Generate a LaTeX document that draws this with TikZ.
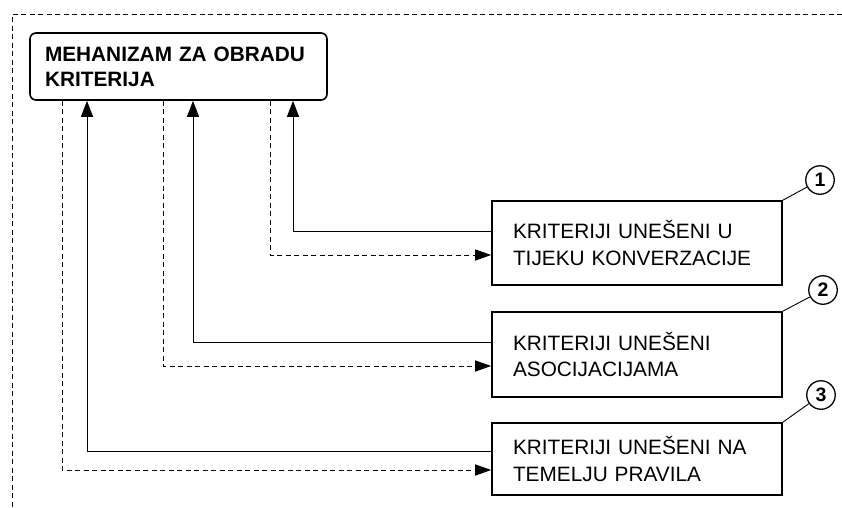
\documentclass[tikz,border=0pt]{standalone}
\usepackage{fontspec}
\setmainfont{Liberation Sans}
\usetikzlibrary{arrows.meta}
\begin{document}
\begin{tikzpicture}[x=1pt,y=-1pt,
  mainbox/.style={draw,line width=1.6pt,rounded corners=6pt,minimum width=297pt,minimum height=67pt,text width=267pt,inner xsep=15pt,align=left,font=\fontsize{20.8}{25}\selectfont\bfseries},
  critbox/.style={draw,line width=1.6pt,minimum width=290pt,text width=248pt,inner xsep=21pt,align=left,font=\fontsize{20.8}{26.5}\selectfont},
  numcirc/.style={draw,circle,line width=1.3pt,minimum size=28.5pt,inner sep=0pt,font=\fontsize{19.5}{19.5}\selectfont\bfseries},
  leader/.style={line width=0.9pt},
  solidarr/.style={line width=1pt,-{Triangle[length=16pt,width=12pt]}},
  dasharr/.style={line width=1pt,dash pattern=on 5pt off 3.5pt,-{Triangle[length=16pt,width=11pt]}},
  frame/.style={line width=1pt,dash pattern=on 5pt off 3.5pt}]
\useasboundingbox (0,0) rectangle (842,507);
\draw[frame] (842,14) -- (12,14) -- (12,507);
\node[mainbox] (main) at (178.5,66.5) {MEHANIZAM ZA OBRADU\\KRITERIJA};
\node[critbox,minimum height=84pt] (b1) at (637,243) {KRITERIJI UNEŠENI U\\TIJEKU KONVERZACIJE};
\node[critbox,minimum height=85pt] (b2) at (637,354.5) {KRITERIJI UNEŠENI\\ASOCIJACIJAMA};
\node[critbox,minimum height=72pt] (b3) at (637,459) {KRITERIJI UNEŠENI NA\\TEMELJU PRAVILA};
\node[numcirc] (c1) at (820,180) {1};
\node[numcirc] (c2) at (823,290) {2};
\node[numcirc] (c3) at (821,395) {3};
\draw[leader] (b1.north east) -- (c1);
\draw[leader] (b2.north east) -- (c2);
\draw[leader] (b3.north east) -- (c3);
% box 1
\draw[solidarr] ([yshift=12pt]b1.west) -| ([xshift=114.5pt]main.south);
\draw[dasharr] ([xshift=91.5pt]main.south) |- ([yshift=-12pt]b1.west);
% box 2
\draw[solidarr] ([yshift=12.5pt]b2.west) -| ([xshift=14.5pt]main.south);
\draw[dasharr] ([xshift=-15.5pt]main.south) |- ([yshift=-11.5pt]b2.west);
% box 3
\draw[solidarr] ([yshift=8pt]b3.west) -| ([xshift=-91.5pt]main.south);
\draw[dasharr] ([xshift=-116.5pt]main.south) |- ([yshift=-11pt]b3.west);
\end{tikzpicture}
\end{document}
